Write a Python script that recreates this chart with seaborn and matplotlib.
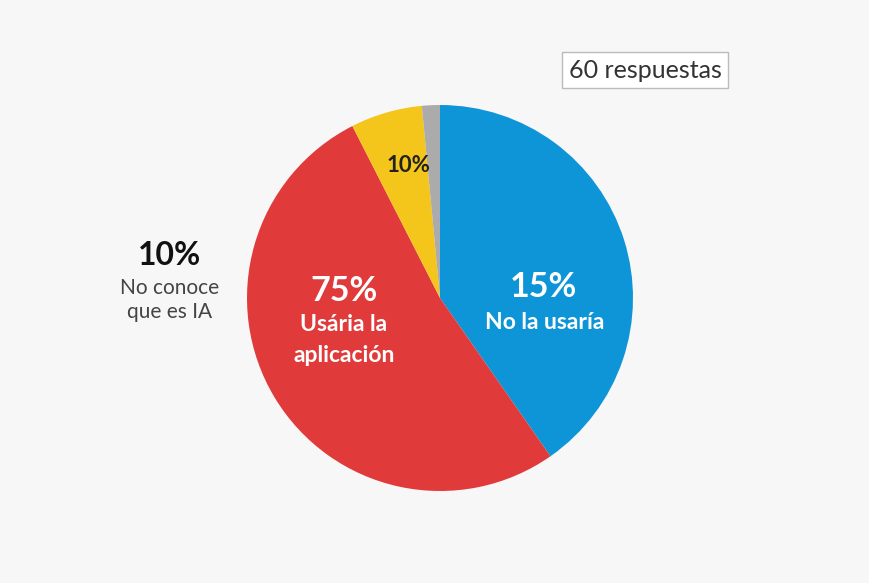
import matplotlib
matplotlib.use("Agg")
import matplotlib.pyplot as plt
import seaborn as sns

categories = ["No la usaría", "Usária la aplicación", "No conoce que es IA", "Otro"]
values = [40.3, 52.2, 6.0, 1.5]
label_pct = ["15%", "75%", "10%", ""]
colors = ["#0E95D7", "#E03B3A", "#F4C51A", "#ABABAB"]
total_text = "60 respuestas"

sns.set_theme(style="white")
plt.rcParams["font.family"] = ["Lato", "DejaVu Sans"]

W, H = 870, 583
fig = plt.figure(figsize=(W / 100, H / 100), dpi=100, facecolor="#F7F7F7")
ax = fig.add_axes([0, 0, 1, 1])
ax.set_facecolor("#F7F7F7")

cx, cy, r = 440, H - 298, 193
ax.pie(values, colors=colors, startangle=90, counterclock=False,
       center=(cx, cy), radius=r, frame=True,
       wedgeprops=dict(linewidth=0))
ax.set_xlim(0, W)
ax.set_ylim(0, H)
ax.set_aspect("equal")
ax.axis("off")

white = "#FFFFFF"
# Blue slice
ax.text(543, H - 287, label_pct[0], ha="center", va="center", color=white,
        fontsize=24.5, fontweight="bold")
ax.text(545, H - 323, "No la usaría", ha="center", va="center", color=white,
        fontsize=16.5, fontweight="bold")
# Red slice
ax.text(344, H - 291, label_pct[1], ha="center", va="center", color=white,
        fontsize=24.5, fontweight="bold")
ax.text(344, H - 325, "Usária la", ha="center", va="center", color=white,
        fontsize=16.5, fontweight="bold")
ax.text(344, H - 355, "aplicación", ha="center", va="center", color=white,
        fontsize=16.5, fontweight="bold")
# Yellow slice
ax.text(408, H - 166, label_pct[2], ha="center", va="center", color="#222222",
        fontsize=16, fontweight="bold")
# Left outside label
ax.text(170, H - 256, label_pct[2], ha="center", va="center", color="#111111",
        fontsize=23, fontweight="bold")
ax.text(170, H - 288, "No conoce", ha="center", va="center", color="#444444",
        fontsize=15)
ax.text(170, H - 312, "que es IA", ha="center", va="center", color="#444444",
        fontsize=15)

# Responses box
ax.text(645, H - 70, total_text, ha="center", va="center", color="#333333",
        fontsize=18,
        bbox=dict(boxstyle="square,pad=0.25", facecolor="white",
                  edgecolor="#BBBBBB", linewidth=1))

fig.savefig("out.png", dpi=100, facecolor=fig.get_facecolor())
